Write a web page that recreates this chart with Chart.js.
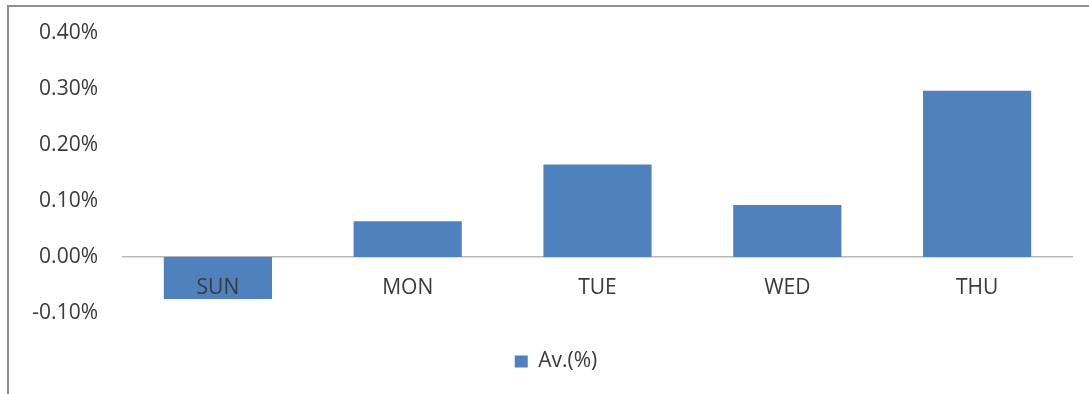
<!DOCTYPE html>
<html>
<head>
<meta charset="utf-8">
<script src="https://cdn.jsdelivr.net/npm/chart.js@4/dist/chart.umd.min.js"></script>
<style>
  html, body { margin: 0; padding: 0; background: #ffffff; overflow: hidden; }
  #frame {
    position: absolute; left: 7px; top: 5px; width: 1200px; height: 500px;
    border-left: 2px solid #8f8f8f; border-top: 2px solid #8f8f8f;
  }
  #wrap { position: absolute; left: 0; top: 0; width: 1089px; height: 394px; }
</style>
</head>
<body>
<div id="frame"></div>
<div id="wrap"><canvas id="chart" width="1089" height="394"></canvas></div>
<script>
// Average daily return by weekday, in percent
const days = ['SUN', 'MON', 'TUE', 'WED', 'THU'];
const avgReturn = [-0.075, 0.064, 0.165, 0.093, 0.297];
const seriesName = 'Av.(%)';
const yMin = -0.1;
const yMax = 0.4;
const yStep = 0.1;

const textColor = '#3a3a3a';
const fontFamily = '"Open Sans", "Noto Sans", sans-serif';

new Chart(document.getElementById('chart'), {
  type: 'bar',
  data: {
    labels: days,
    datasets: [{
      label: seriesName,
      data: avgReturn,
      yAxisID: 'y',
      backgroundColor: '#4f81bd',
      borderWidth: 0,
      barPercentage: 0.57,
      categoryPercentage: 1.0
    }]
  },
  options: {
    responsive: false,
    animation: false,
    layout: { padding: { left: 23, right: 0, top: 33, bottom: 12 } },
    plugins: {
      legend: {
        position: 'bottom',
        labels: {
          boxWidth: 13,
          boxHeight: 12,
          padding: 38,
          color: textColor,
          font: { family: fontFamily, size: 21 }
        }
      },
      tooltip: { enabled: false }
    },
    scales: {
      x: {
        position: { y: 0 },
        grid: { display: false, drawTicks: false },
        border: { display: true, color: '#b8b8b8', width: 1.5 },
        ticks: {
          z: 1,
          padding: 18,
          color: textColor,
          font: { family: fontFamily, size: 21 }
        }
      },
      y: {
        min: yMin,
        max: yMax,
        grid: { display: false, drawTicks: false },
        border: { display: false },
        afterFit: (scale) => { scale.width = 100; },
        ticks: {
          stepSize: yStep,
          padding: 25,
          color: textColor,
          // single-line labels: a tight line height keeps the top label from pushing the plot down
          font: { family: fontFamily, size: 21, lineHeight: 0.7 },
          callback: (v) => v.toFixed(2) + '%'
        }
      },
      // empty right margin strip beside the plot
      yRight: {
        position: 'right',
        min: yMin,
        max: yMax,
        grid: { display: false, drawTicks: false },
        border: { display: false },
        ticks: { display: false },
        afterFit: (scale) => { scale.width = 17; }
      }
    }
  }
});
</script>
</body>
</html>
